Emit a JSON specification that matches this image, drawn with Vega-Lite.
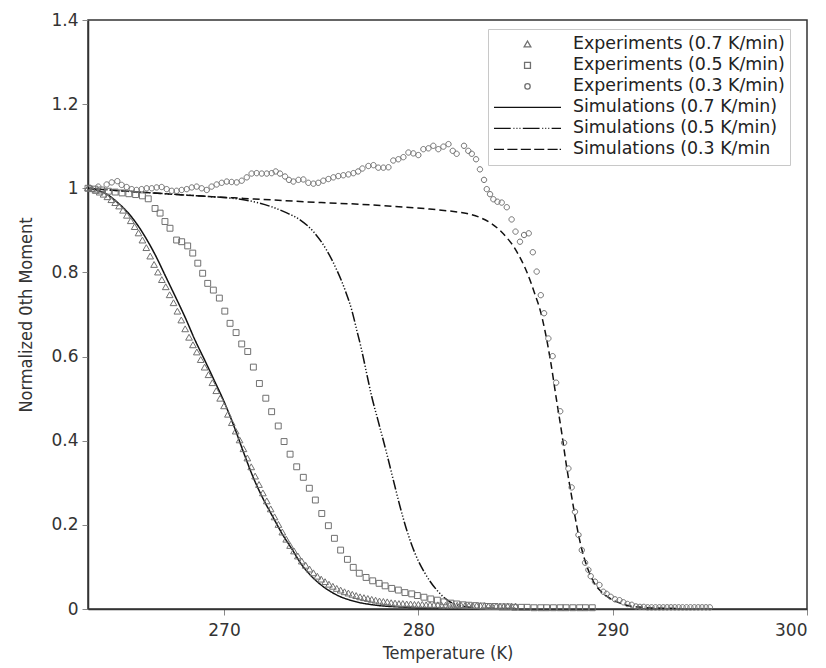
{
  "$schema": "https://vega.github.io/schema/vega-lite/v6.json",
  "width": 719,
  "height": 589,
  "autosize": {"type": "none"},
  "padding": {"left": 88, "top": 20, "right": 19, "bottom": 59},
  "background": "white",
  "config": {
    "font": "DejaVu Sans",
    "view": {"stroke": "#333333", "strokeWidth": 1.5},
    "axis": {
      "grid": false,
      "domainColor": "#333333",
      "domainWidth": 1.5,
      "tickColor": "#888888",
      "tickSize": 6,
      "labelFont": "DejaVu Sans",
      "labelFontSize": 17,
      "labelColor": "#333333",
      "titleFont": "DejaVu Sans Condensed",
      "titleFontSize": 18,
      "titleFontWeight": "normal",
      "titleColor": "#333333"
    },
    "legend": {
      "orient": "none",
      "legendX": 400,
      "legendY": 9,
      "symbolSize": 4489,
      "symbolStrokeWidth": 1.3,
      "clipHeight": 20.8,
      "rowPadding": 0,
      "labelOffset": 11,
      "labelFontSize": 17.4,
      "labelFont": "DejaVu Sans",
      "labelColor": "#222222",
      "padding": 5,
      "strokeColor": "#c8c8c8",
      "fillColor": "white",
      "labelLimit": 400
    }
  },
  "data": {"values": [
    {"s":"s7","t":263.0,"v":1.000},{"s":"s7","t":263.5,"v":0.995},{"s":"s7","t":264.0,"v":0.985},{"s":"s7","t":264.5,"v":0.967},{"s":"s7","t":265.0,"v":0.945},{"s":"s7","t":265.5,"v":0.916},{"s":"s7","t":266.0,"v":0.880},{"s":"s7","t":266.5,"v":0.838},{"s":"s7","t":267.0,"v":0.790},{"s":"s7","t":267.5,"v":0.742},{"s":"s7","t":268.0,"v":0.693},{"s":"s7","t":268.5,"v":0.640},{"s":"s7","t":269.0,"v":0.592},{"s":"s7","t":269.5,"v":0.543},{"s":"s7","t":270.0,"v":0.493},{"s":"s7","t":270.5,"v":0.436},{"s":"s7","t":271.0,"v":0.373},{"s":"s7","t":271.5,"v":0.313},{"s":"s7","t":272.0,"v":0.263},{"s":"s7","t":272.5,"v":0.220},{"s":"s7","t":273.0,"v":0.178},{"s":"s7","t":273.5,"v":0.142},{"s":"s7","t":274.0,"v":0.105},{"s":"s7","t":274.5,"v":0.078},{"s":"s7","t":275.0,"v":0.057},{"s":"s7","t":275.5,"v":0.041},{"s":"s7","t":276.0,"v":0.029},{"s":"s7","t":276.5,"v":0.021},{"s":"s7","t":277.0,"v":0.015},{"s":"s7","t":277.5,"v":0.011},{"s":"s7","t":278.0,"v":0.008},{"s":"s7","t":279.0,"v":0.005},{"s":"s7","t":280.0,"v":0.003},{"s":"s7","t":281.0,"v":0.002},{"s":"s7","t":282.0,"v":0.001},{"s":"s7","t":283.0,"v":0.001},

    {"s":"s5","t":263.0,"v":1.000},{"s":"s5","t":265.0,"v":0.993},{"s":"s5","t":267.0,"v":0.987},{"s":"s5","t":269.0,"v":0.981},{"s":"s5","t":270.0,"v":0.978},{"s":"s5","t":271.08,"v":0.972},{"s":"s5","t":271.8,"v":0.965},{"s":"s5","t":272.45,"v":0.956},{"s":"s5","t":273.2,"v":0.942},{"s":"s5","t":273.91,"v":0.925},{"s":"s5","t":274.6,"v":0.897},{"s":"s5","t":275.28,"v":0.853},{"s":"s5","t":275.8,"v":0.806},{"s":"s5","t":276.23,"v":0.758},{"s":"s5","t":276.57,"v":0.711},{"s":"s5","t":276.83,"v":0.663},{"s":"s5","t":277.08,"v":0.616},{"s":"s5","t":277.34,"v":0.560},{"s":"s5","t":277.6,"v":0.505},{"s":"s5","t":277.92,"v":0.449},{"s":"s5","t":278.37,"v":0.370},{"s":"s5","t":278.71,"v":0.307},{"s":"s5","t":279.06,"v":0.243},{"s":"s5","t":279.4,"v":0.188},{"s":"s5","t":279.83,"v":0.132},{"s":"s5","t":280.34,"v":0.085},{"s":"s5","t":280.95,"v":0.045},{"s":"s5","t":281.63,"v":0.017},{"s":"s5","t":282.49,"v":0.005},{"s":"s5","t":283.5,"v":0.002},{"s":"s5","t":285.0,"v":0.001},

    {"s":"s3","t":263.0,"v":1.000},{"s":"s3","t":265.0,"v":0.993},{"s":"s3","t":267.0,"v":0.987},{"s":"s3","t":269.0,"v":0.981},{"s":"s3","t":271.0,"v":0.976},{"s":"s3","t":273.0,"v":0.971},{"s":"s3","t":275.0,"v":0.966},{"s":"s3","t":277.0,"v":0.962},{"s":"s3","t":279.0,"v":0.956},{"s":"s3","t":280.5,"v":0.951},{"s":"s3","t":281.6,"v":0.946},{"s":"s3","t":282.5,"v":0.940},{"s":"s3","t":283.2,"v":0.930},{"s":"s3","t":283.8,"v":0.915},{"s":"s3","t":284.2,"v":0.900},{"s":"s3","t":284.6,"v":0.880},{"s":"s3","t":284.9,"v":0.862},{"s":"s3","t":285.2,"v":0.838},{"s":"s3","t":285.5,"v":0.810},{"s":"s3","t":285.8,"v":0.775},{"s":"s3","t":286.0,"v":0.748},{"s":"s3","t":286.26,"v":0.712},{"s":"s3","t":286.5,"v":0.665},{"s":"s3","t":286.8,"v":0.590},{"s":"s3","t":287.1,"v":0.500},{"s":"s3","t":287.38,"v":0.418},{"s":"s3","t":287.63,"v":0.338},{"s":"s3","t":287.89,"v":0.267},{"s":"s3","t":288.15,"v":0.198},{"s":"s3","t":288.41,"v":0.142},{"s":"s3","t":288.67,"v":0.102},{"s":"s3","t":289.0,"v":0.066},{"s":"s3","t":289.44,"v":0.040},{"s":"s3","t":289.87,"v":0.025},{"s":"s3","t":290.38,"v":0.014},{"s":"s3","t":290.9,"v":0.007},{"s":"s3","t":291.5,"v":0.004},{"s":"s3","t":292.5,"v":0.002},{"s":"s3","t":293.5,"v":0.001},

    {"s":"e7","t":263.0,"v":1.000},{"s":"e7","t":263.2,"v":0.998},{"s":"e7","t":263.4,"v":0.994},{"s":"e7","t":263.6,"v":0.990},{"s":"e7","t":263.8,"v":0.985},{"s":"e7","t":264.0,"v":0.979},{"s":"e7","t":264.2,"v":0.972},{"s":"e7","t":264.4,"v":0.965},{"s":"e7","t":264.6,"v":0.957},{"s":"e7","t":264.8,"v":0.947},
    {"s":"e7","t":265.0,"v":0.935},{"s":"e7","t":265.2,"v":0.922},{"s":"e7","t":265.4,"v":0.908},{"s":"e7","t":265.6,"v":0.893},{"s":"e7","t":265.8,"v":0.876},{"s":"e7","t":266.0,"v":0.858},{"s":"e7","t":266.2,"v":0.838},{"s":"e7","t":266.4,"v":0.818},{"s":"e7","t":266.6,"v":0.800},{"s":"e7","t":266.8,"v":0.782},
    {"s":"e7","t":267.0,"v":0.765},{"s":"e7","t":267.2,"v":0.746},{"s":"e7","t":267.4,"v":0.727},{"s":"e7","t":267.6,"v":0.707},{"s":"e7","t":267.8,"v":0.686},{"s":"e7","t":268.0,"v":0.665},{"s":"e7","t":268.2,"v":0.645},{"s":"e7","t":268.4,"v":0.627},{"s":"e7","t":268.6,"v":0.610},{"s":"e7","t":268.8,"v":0.592},
    {"s":"e7","t":269.0,"v":0.574},{"s":"e7","t":269.2,"v":0.556},{"s":"e7","t":269.4,"v":0.537},{"s":"e7","t":269.6,"v":0.518},{"s":"e7","t":269.8,"v":0.500},{"s":"e7","t":270.0,"v":0.482},{"s":"e7","t":270.2,"v":0.462},{"s":"e7","t":270.4,"v":0.442},{"s":"e7","t":270.6,"v":0.422},{"s":"e7","t":270.8,"v":0.401},
    {"s":"e7","t":271.0,"v":0.380},{"s":"e7","t":271.2,"v":0.358},{"s":"e7","t":271.4,"v":0.337},{"s":"e7","t":271.6,"v":0.315},{"s":"e7","t":271.8,"v":0.295},{"s":"e7","t":272.0,"v":0.275},{"s":"e7","t":272.2,"v":0.256},{"s":"e7","t":272.4,"v":0.237},{"s":"e7","t":272.6,"v":0.218},{"s":"e7","t":272.8,"v":0.200},
    {"s":"e7","t":273.0,"v":0.182},{"s":"e7","t":273.2,"v":0.165},{"s":"e7","t":273.4,"v":0.150},{"s":"e7","t":273.6,"v":0.137},{"s":"e7","t":273.8,"v":0.125},{"s":"e7","t":274.0,"v":0.113},{"s":"e7","t":274.2,"v":0.103},{"s":"e7","t":274.4,"v":0.094},{"s":"e7","t":274.6,"v":0.085},{"s":"e7","t":274.8,"v":0.077},
    {"s":"e7","t":275.0,"v":0.070},{"s":"e7","t":275.2,"v":0.064},{"s":"e7","t":275.4,"v":0.058},{"s":"e7","t":275.6,"v":0.053},{"s":"e7","t":275.8,"v":0.048},{"s":"e7","t":276.0,"v":0.044},{"s":"e7","t":276.2,"v":0.040},{"s":"e7","t":276.4,"v":0.037},{"s":"e7","t":276.6,"v":0.034},{"s":"e7","t":276.8,"v":0.031},
    {"s":"e7","t":277.0,"v":0.028},{"s":"e7","t":277.2,"v":0.026},{"s":"e7","t":277.4,"v":0.024},{"s":"e7","t":277.6,"v":0.022},{"s":"e7","t":277.8,"v":0.020},{"s":"e7","t":278.0,"v":0.018},{"s":"e7","t":278.2,"v":0.017},{"s":"e7","t":278.4,"v":0.016},{"s":"e7","t":278.6,"v":0.014},{"s":"e7","t":278.8,"v":0.013},
    {"s":"e7","t":279.0,"v":0.012},{"s":"e7","t":279.2,"v":0.012},{"s":"e7","t":279.4,"v":0.011},{"s":"e7","t":279.6,"v":0.011},{"s":"e7","t":279.8,"v":0.010},{"s":"e7","t":280.0,"v":0.010},{"s":"e7","t":280.2,"v":0.010},{"s":"e7","t":280.4,"v":0.009},{"s":"e7","t":280.6,"v":0.009},{"s":"e7","t":280.8,"v":0.009},
    {"s":"e7","t":281.0,"v":0.009},{"s":"e7","t":281.2,"v":0.008},{"s":"e7","t":281.4,"v":0.008},{"s":"e7","t":281.6,"v":0.008},{"s":"e7","t":281.8,"v":0.008},{"s":"e7","t":282.0,"v":0.008},{"s":"e7","t":282.2,"v":0.008},{"s":"e7","t":282.4,"v":0.007},{"s":"e7","t":282.6,"v":0.007},{"s":"e7","t":282.8,"v":0.007},
    {"s":"e7","t":283.0,"v":0.007},{"s":"e7","t":283.2,"v":0.007},{"s":"e7","t":283.4,"v":0.007},{"s":"e7","t":283.6,"v":0.006},{"s":"e7","t":283.8,"v":0.006},{"s":"e7","t":284.0,"v":0.006},{"s":"e7","t":284.2,"v":0.006},{"s":"e7","t":284.4,"v":0.006},{"s":"e7","t":284.6,"v":0.006},{"s":"e7","t":284.8,"v":0.006},{"s":"e7","t":285.0,"v":0.006},

    {"s":"e5","t":263.0,"v":1.000},{"s":"e5","t":263.35,"v":0.998},{"s":"e5","t":263.7,"v":0.996},{"s":"e5","t":264.05,"v":0.993},{"s":"e5","t":264.4,"v":0.991},{"s":"e5","t":264.75,"v":0.989},{"s":"e5","t":265.1,"v":0.987},{"s":"e5","t":265.45,"v":0.985},{"s":"e5","t":265.8,"v":0.982},{"s":"e5","t":266.1,"v":0.975},
    {"s":"e5","t":266.45,"v":0.952},{"s":"e5","t":266.71,"v":0.941},{"s":"e5","t":266.96,"v":0.921},{"s":"e5","t":267.22,"v":0.905},{"s":"e5","t":267.56,"v":0.877},{"s":"e5","t":267.82,"v":0.873},{"s":"e5","t":268.13,"v":0.863},{"s":"e5","t":268.39,"v":0.846},{"s":"e5","t":268.65,"v":0.822},{"s":"e5","t":268.9,"v":0.798},
    {"s":"e5","t":269.16,"v":0.774},{"s":"e5","t":269.45,"v":0.758},{"s":"e5","t":269.76,"v":0.739},{"s":"e5","t":270.04,"v":0.708},{"s":"e5","t":270.31,"v":0.679},{"s":"e5","t":270.62,"v":0.657},{"s":"e5","t":270.91,"v":0.630},{"s":"e5","t":271.22,"v":0.612},{"s":"e5","t":271.51,"v":0.575},{"s":"e5","t":271.82,"v":0.536},
    {"s":"e5","t":272.15,"v":0.501},{"s":"e5","t":272.45,"v":0.469},{"s":"e5","t":272.79,"v":0.435},{"s":"e5","t":273.09,"v":0.398},{"s":"e5","t":273.4,"v":0.368},{"s":"e5","t":273.74,"v":0.338},{"s":"e5","t":274.08,"v":0.313},{"s":"e5","t":274.39,"v":0.287},{"s":"e5","t":274.7,"v":0.259},{"s":"e5","t":275.03,"v":0.227},
    {"s":"e5","t":275.37,"v":0.198},{"s":"e5","t":275.68,"v":0.168},{"s":"e5","t":276.0,"v":0.140},{"s":"e5","t":276.35,"v":0.118},{"s":"e5","t":276.65,"v":0.099},{"s":"e5","t":276.96,"v":0.085},{"s":"e5","t":277.31,"v":0.075},{"s":"e5","t":277.65,"v":0.067},{"s":"e5","t":277.98,"v":0.061},{"s":"e5","t":278.29,"v":0.055},
    {"s":"e5","t":278.63,"v":0.049},{"s":"e5","t":278.97,"v":0.045},{"s":"e5","t":279.31,"v":0.039},{"s":"e5","t":279.66,"v":0.036},{"s":"e5","t":279.95,"v":0.032},{"s":"e5","t":280.29,"v":0.028},{"s":"e5","t":280.64,"v":0.024},{"s":"e5","t":280.98,"v":0.021},{"s":"e5","t":281.32,"v":0.017},{"s":"e5","t":281.67,"v":0.014},
    {"s":"e5","t":281.98,"v":0.012},{"s":"e5","t":282.3,"v":0.010},{"s":"e5","t":282.6,"v":0.009},{"s":"e5","t":282.95,"v":0.008},{"s":"e5","t":283.3,"v":0.007},{"s":"e5","t":283.6,"v":0.006},{"s":"e5","t":283.95,"v":0.006},{"s":"e5","t":284.3,"v":0.005},{"s":"e5","t":284.6,"v":0.005},{"s":"e5","t":284.95,"v":0.004},
    {"s":"e5","t":285.3,"v":0.004},{"s":"e5","t":285.6,"v":0.004},{"s":"e5","t":285.95,"v":0.003},{"s":"e5","t":286.3,"v":0.003},{"s":"e5","t":286.6,"v":0.003},{"s":"e5","t":286.95,"v":0.003},{"s":"e5","t":287.3,"v":0.003},{"s":"e5","t":287.6,"v":0.003},{"s":"e5","t":287.95,"v":0.003},{"s":"e5","t":288.3,"v":0.003},{"s":"e5","t":288.6,"v":0.003},{"s":"e5","t":288.95,"v":0.003},

    {"s":"e3","t":263.1,"v":1.001},{"s":"e3","t":263.53,"v":1.004},{"s":"e3","t":263.96,"v":1.009},{"s":"e3","t":264.22,"v":1.014},{"s":"e3","t":264.51,"v":1.017},{"s":"e3","t":264.73,"v":1.008},{"s":"e3","t":264.99,"v":1.003},{"s":"e3","t":265.25,"v":0.998},{"s":"e3","t":265.5,"v":0.996},{"s":"e3","t":265.76,"v":0.998},
    {"s":"e3","t":266.02,"v":1.000},{"s":"e3","t":266.28,"v":1.000},{"s":"e3","t":266.53,"v":1.002},{"s":"e3","t":266.79,"v":1.003},{"s":"e3","t":267.05,"v":0.998},{"s":"e3","t":267.31,"v":0.994},{"s":"e3","t":267.56,"v":0.994},{"s":"e3","t":267.82,"v":0.996},{"s":"e3","t":268.08,"v":0.998},{"s":"e3","t":268.34,"v":1.002},
    {"s":"e3","t":268.59,"v":1.004},{"s":"e3","t":268.85,"v":1.000},{"s":"e3","t":269.11,"v":0.996},{"s":"e3","t":269.36,"v":1.004},{"s":"e3","t":269.62,"v":1.009},{"s":"e3","t":269.88,"v":1.013},{"s":"e3","t":270.14,"v":1.016},{"s":"e3","t":270.39,"v":1.015},{"s":"e3","t":270.65,"v":1.014},{"s":"e3","t":270.91,"v":1.018},
    {"s":"e3","t":271.17,"v":1.026},{"s":"e3","t":271.42,"v":1.035},{"s":"e3","t":271.68,"v":1.036},{"s":"e3","t":271.94,"v":1.035},{"s":"e3","t":272.2,"v":1.035},{"s":"e3","t":272.45,"v":1.036},{"s":"e3","t":272.66,"v":1.040},{"s":"e3","t":272.88,"v":1.035},{"s":"e3","t":273.14,"v":1.028},{"s":"e3","t":273.34,"v":1.020},
    {"s":"e3","t":273.57,"v":1.016},{"s":"e3","t":273.83,"v":1.020},{"s":"e3","t":274.08,"v":1.021},{"s":"e3","t":274.34,"v":1.013},{"s":"e3","t":274.6,"v":1.011},{"s":"e3","t":274.85,"v":1.013},{"s":"e3","t":275.11,"v":1.018},{"s":"e3","t":275.37,"v":1.022},{"s":"e3","t":275.63,"v":1.026},{"s":"e3","t":275.88,"v":1.029},
    {"s":"e3","t":276.14,"v":1.031},{"s":"e3","t":276.4,"v":1.033},{"s":"e3","t":276.66,"v":1.036},{"s":"e3","t":276.9,"v":1.040},{"s":"e3","t":277.12,"v":1.047},{"s":"e3","t":277.43,"v":1.053},{"s":"e3","t":277.69,"v":1.055},{"s":"e3","t":277.94,"v":1.049},{"s":"e3","t":278.2,"v":1.049},{"s":"e3","t":278.46,"v":1.050},
    {"s":"e3","t":278.71,"v":1.066},{"s":"e3","t":278.97,"v":1.069},{"s":"e3","t":279.23,"v":1.074},{"s":"e3","t":279.49,"v":1.085},{"s":"e3","t":279.74,"v":1.083},{"s":"e3","t":280.0,"v":1.079},{"s":"e3","t":280.26,"v":1.093},{"s":"e3","t":280.52,"v":1.095},{"s":"e3","t":280.77,"v":1.101},{"s":"e3","t":281.03,"v":1.093},
    {"s":"e3","t":281.29,"v":1.099},{"s":"e3","t":281.55,"v":1.105},{"s":"e3","t":281.77,"v":1.089},{"s":"e3","t":281.97,"v":1.082},{"s":"e3","t":282.35,"v":1.101},{"s":"e3","t":282.57,"v":1.089},{"s":"e3","t":282.75,"v":1.082},{"s":"e3","t":282.97,"v":1.069},{"s":"e3","t":283.17,"v":1.045},{"s":"e3","t":283.38,"v":1.020},
    {"s":"e3","t":283.52,"v":0.998},{"s":"e3","t":283.69,"v":0.986},{"s":"e3","t":283.86,"v":0.974},{"s":"e3","t":284.07,"v":0.968},{"s":"e3","t":284.29,"v":0.966},{"s":"e3","t":284.55,"v":0.955},{"s":"e3","t":284.8,"v":0.926},{"s":"e3","t":285.0,"v":0.897},{"s":"e3","t":285.23,"v":0.873},{"s":"e3","t":285.44,"v":0.889},
    {"s":"e3","t":285.68,"v":0.893},{"s":"e3","t":285.89,"v":0.848},{"s":"e3","t":286.09,"v":0.802},{"s":"e3","t":286.3,"v":0.746},{"s":"e3","t":286.47,"v":0.703},{"s":"e3","t":286.69,"v":0.643},{"s":"e3","t":286.91,"v":0.601},{"s":"e3","t":287.09,"v":0.538},{"s":"e3","t":287.3,"v":0.470},{"s":"e3","t":287.5,"v":0.395},
    {"s":"e3","t":287.72,"v":0.334},{"s":"e3","t":287.89,"v":0.289},{"s":"e3","t":288.06,"v":0.231},{"s":"e3","t":288.24,"v":0.176},{"s":"e3","t":288.41,"v":0.140},{"s":"e3","t":288.58,"v":0.110},{"s":"e3","t":288.75,"v":0.093},{"s":"e3","t":288.87,"v":0.078},{"s":"e3","t":289.09,"v":0.065},{"s":"e3","t":289.32,"v":0.057},
    {"s":"e3","t":289.52,"v":0.041},{"s":"e3","t":289.69,"v":0.036},{"s":"e3","t":289.9,"v":0.029},{"s":"e3","t":290.12,"v":0.023},{"s":"e3","t":290.35,"v":0.021},{"s":"e3","t":290.55,"v":0.016},{"s":"e3","t":290.76,"v":0.012},{"s":"e3","t":290.98,"v":0.010},{"s":"e3","t":291.2,"v":0.006},{"s":"e3","t":291.4,"v":0.005},
    {"s":"e3","t":291.6,"v":0.005},{"s":"e3","t":291.8,"v":0.004},{"s":"e3","t":292.0,"v":0.004},{"s":"e3","t":292.2,"v":0.004},{"s":"e3","t":292.4,"v":0.004},{"s":"e3","t":292.6,"v":0.004},{"s":"e3","t":292.8,"v":0.004},{"s":"e3","t":293.0,"v":0.004},{"s":"e3","t":293.2,"v":0.004},{"s":"e3","t":293.4,"v":0.004},
    {"s":"e3","t":293.6,"v":0.004},{"s":"e3","t":293.8,"v":0.004},{"s":"e3","t":294.0,"v":0.004},{"s":"e3","t":294.2,"v":0.004},{"s":"e3","t":294.4,"v":0.004},{"s":"e3","t":294.6,"v":0.004},{"s":"e3","t":294.8,"v":0.004},{"s":"e3","t":295.0,"v":0.004}
  ]},
  "encoding": {
    "x": {
      "field": "t", "type": "quantitative", "title": "Temperature (K)",
      "scale": {"domain": [263, 300], "nice": false, "zero": false},
      "axis": {"values": [270, 280, 290, 300], "labelPadding": 7, "titlePadding": 6}
    },
    "y": {
      "field": "v", "type": "quantitative", "title": "Normalized 0th Moment",
      "scale": {"domain": [0, 1.4], "nice": false},
      "axis": {"values": [0, 0.2, 0.4, 0.6, 0.8, 1, 1.2, 1.4], "format": "~g", "labelPadding": 4, "titlePadding": 15}
    }
  },
  "layer": [
    {
      "transform": [{"filter": "indexof(['s7','s5','s3'], datum.s) >= 0"}],
      "mark": {"type": "line", "interpolate": "monotone", "strokeWidth": 1.5},
      "encoding": {
        "color": {
          "field": "s", "type": "nominal",
          "scale": {"domain": ["e7","e5","e3","s7","s5","s3"], "range": ["#707070","#707070","#707070","#111111","#111111","#111111"]},
          "legend": {"title": null, "labelExpr": "{'e7':'Experiments (0.7 K/min)','e5':'Experiments (0.5 K/min)','e3':'Experiments (0.3 K/min)','s7':'Simulations (0.7 K/min)','s5':'Simulations (0.5 K/min)','s3':'Simulations (0.3 K/min'}[datum.label]"}
        },
        "strokeDash": {
          "field": "s", "type": "nominal",
          "scale": {"domain": ["s7","s5","s3"], "range": [[1,0],[10,2,1.2,2,1.2,2,1.2,2],[7,4]]},
          "legend": null
        }
      }
    },
    {
      "transform": [{"filter": "indexof(['e7','e5','e3'], datum.s) >= 0"}],
      "mark": {"type": "point", "filled": false, "size": 4489, "strokeWidth": 1, "opacity": 1},
      "encoding": {
        "color": {
          "field": "s", "type": "nominal",
          "scale": {"domain": ["e7","e5","e3","s7","s5","s3"], "range": ["#707070","#707070","#707070","#111111","#111111","#111111"]},
          "legend": {"title": null, "labelExpr": "{'e7':'Experiments (0.7 K/min)','e5':'Experiments (0.5 K/min)','e3':'Experiments (0.3 K/min)','s7':'Simulations (0.7 K/min)','s5':'Simulations (0.5 K/min)','s3':'Simulations (0.3 K/min'}[datum.label]"}
        },
        "shape": {
          "field": "s", "type": "nominal",
          "scale": {
            "domain": ["e7","e5","e3","s7","s5","s3"],
            "range": [
              "M0,-0.1L0.1,0.075L-0.1,0.075Z",
              "M-0.088,-0.088H0.088V0.088H-0.088Z",
              "M0.08,0A0.08,0.08,0,1,1,-0.08,0A0.08,0.08,0,1,1,0.08,0Z",
              "M-1,0H1",
              "M-1,0H-0.5M-0.42,0H-0.39M-0.33,0H-0.3M-0.24,0H-0.21M-0.14,0H0.36M0.44,0H0.47M0.53,0H0.56M0.62,0H0.65M0.72,0H1",
              "M-1,0H-0.7M-0.6,0H-0.3M-0.2,0H0.1M0.2,0H0.5M0.6,0H0.9M0.96,0H1"
            ]
          },
          "legend": {"title": null, "labelExpr": "{'e7':'Experiments (0.7 K/min)','e5':'Experiments (0.5 K/min)','e3':'Experiments (0.3 K/min)','s7':'Simulations (0.7 K/min)','s5':'Simulations (0.5 K/min)','s3':'Simulations (0.3 K/min'}[datum.label]"}
        }
      }
    }
  ]
}
